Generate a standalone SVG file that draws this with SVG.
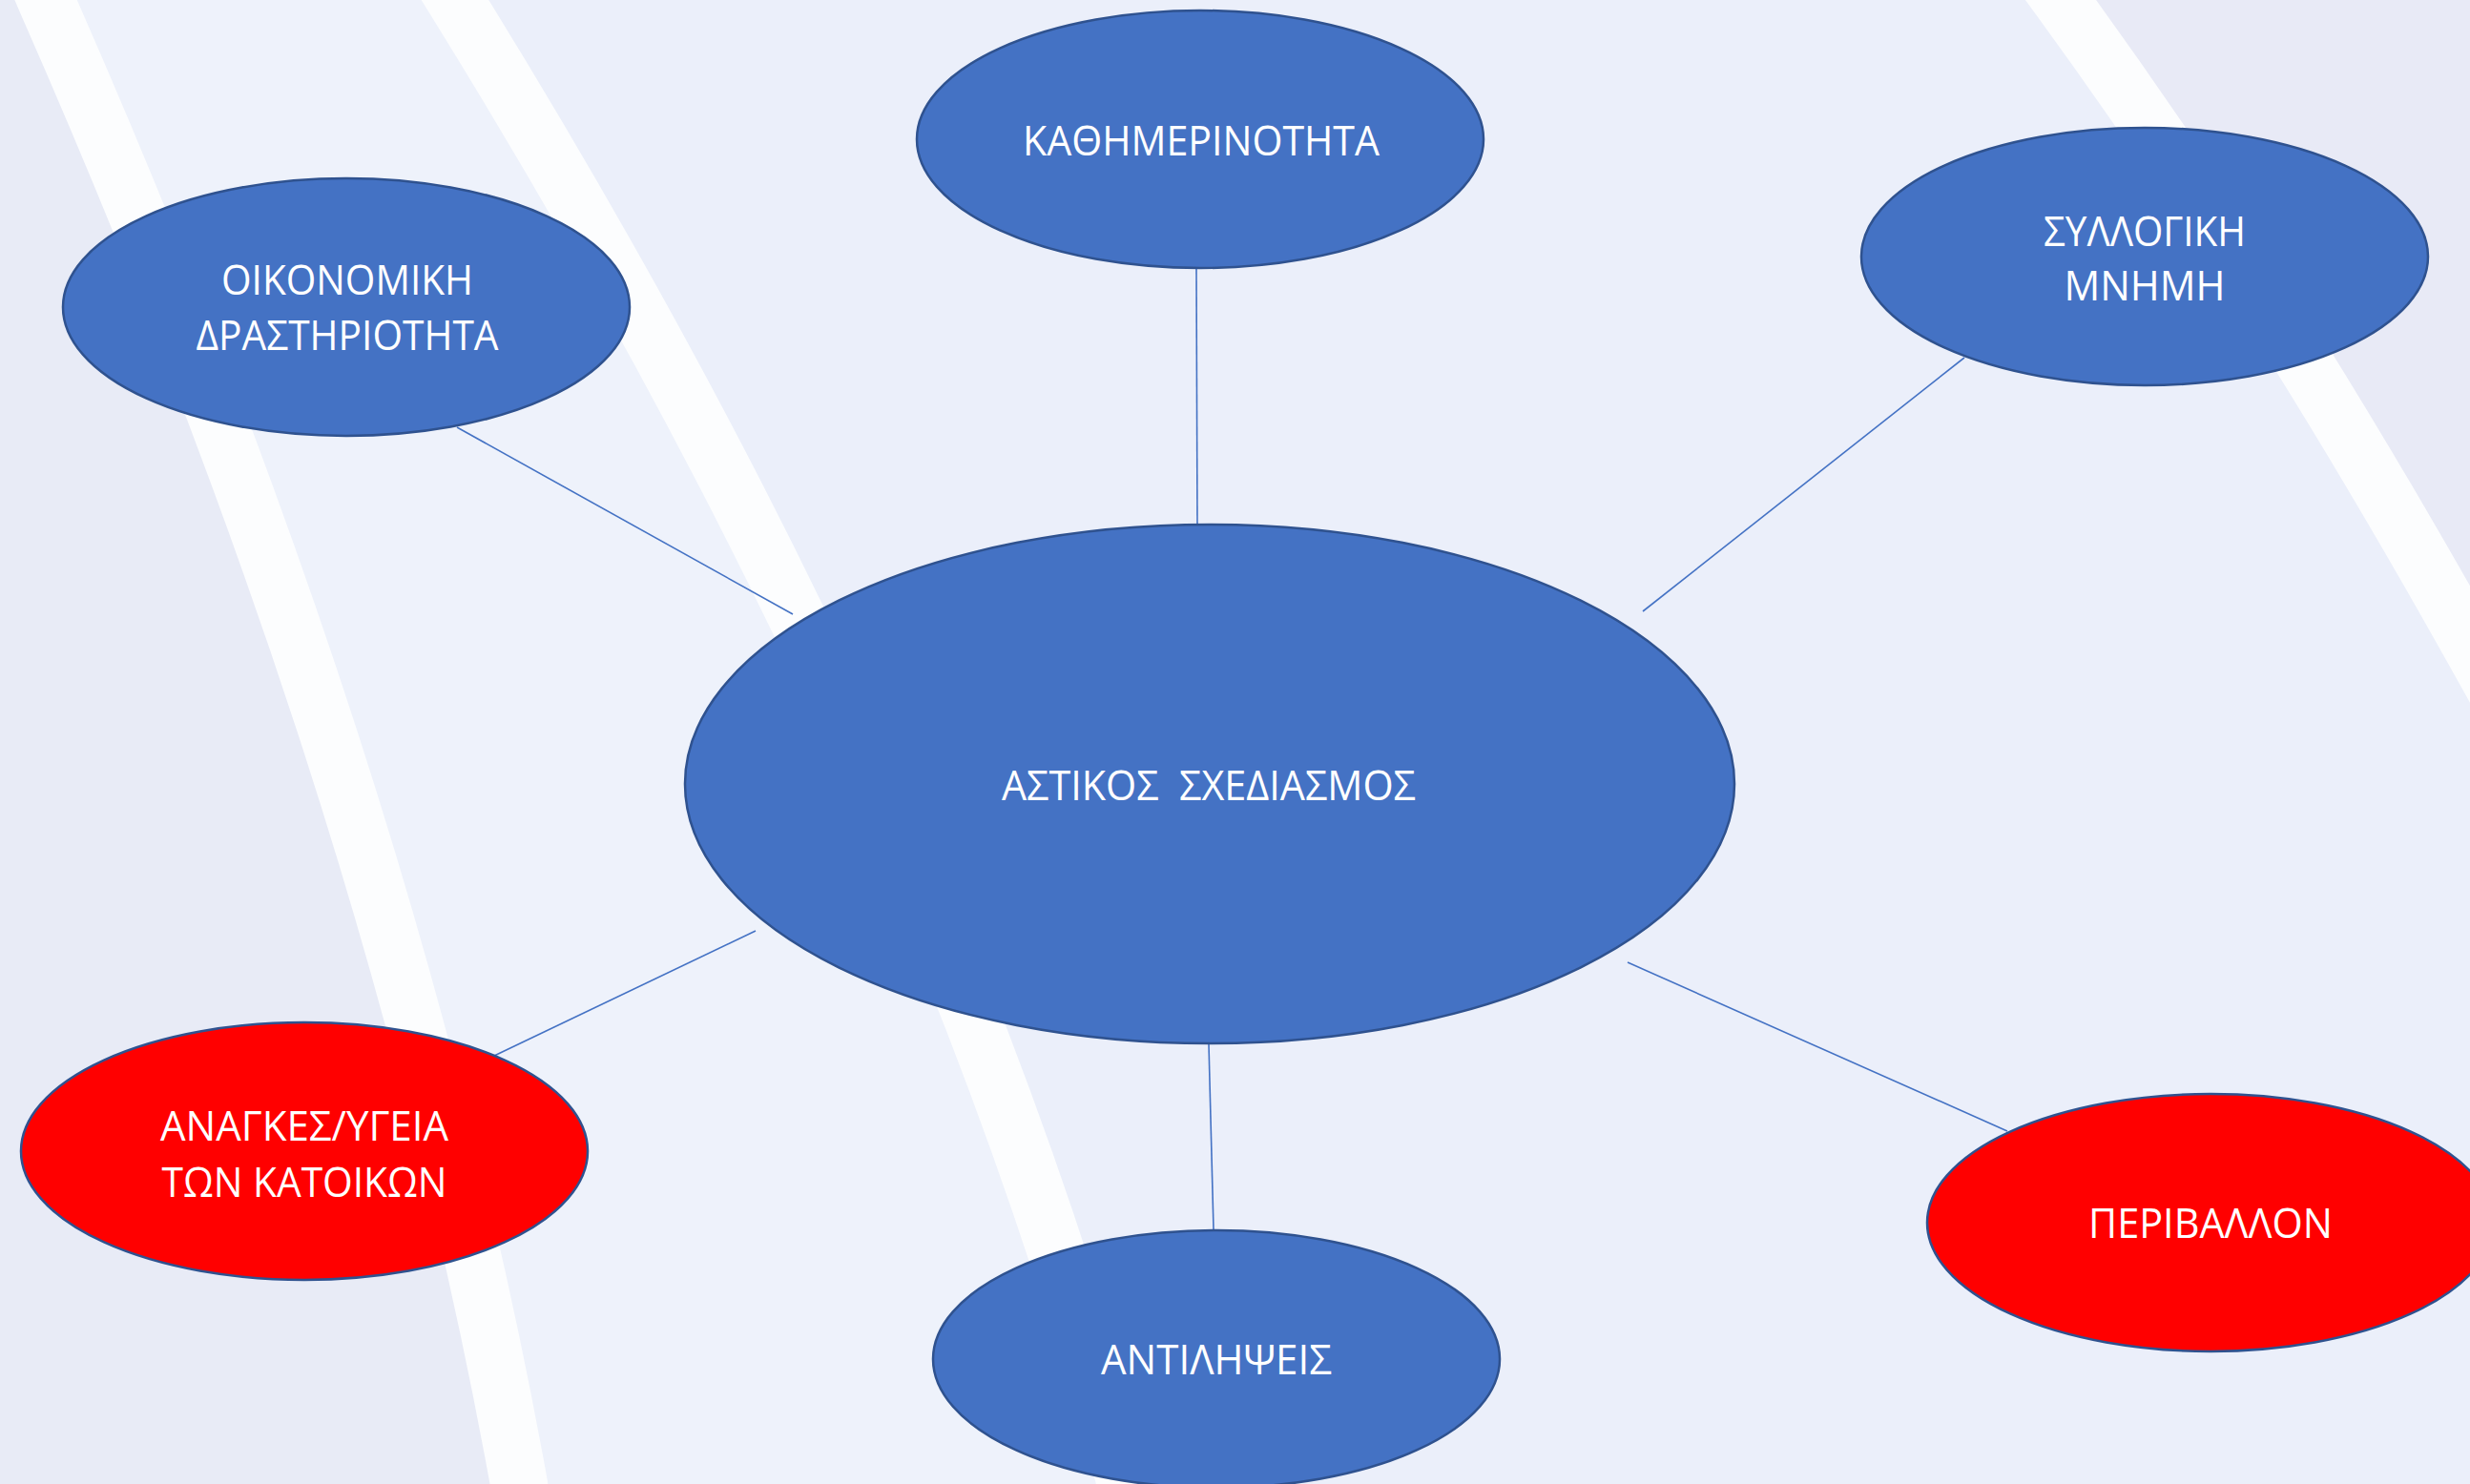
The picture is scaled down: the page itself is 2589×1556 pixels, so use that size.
<svg xmlns="http://www.w3.org/2000/svg" width="2589" height="1556" viewBox="0 0 2589 1556">
  <defs>
    <style>
      .node { stroke: #2F528F; stroke-width: 2.5; }
      .blue { fill: #4472C4; }
      .red { fill: #FF0000; }
      .lbl { font-family: "Open Sans", "Noto Sans", "Liberation Sans", sans-serif; font-size: 43px; fill: #FFFFFF; text-anchor: middle; }
      .conn { stroke: #4472C4; stroke-width: 1.6; fill: none; }
      .stripe { stroke: #FCFDFE; stroke-width: 60; fill: none; }
    </style>
  </defs>

  <g id="background">
    <rect x="0" y="0" width="2589" height="1556" fill="#EBEFFA"/>
    <path d="M0,0 L48,0 C277,520 450,1036 544,1556 L0,1556 Z" fill="#E8EBF6"/>
    <path d="M48,0 L477,0 C799,520 1040,1036 1180,1556 L544,1556 C450,1036 277,520 48,0 Z" fill="#EEF2FB"/>
    <path d="M2160,0 C2340,247 2489,493 2625,740 L2625,0 Z" fill="#E8EAF6"/>
    <path class="stripe" d="M31,-40 L48,0 C277,520 450,1036 544,1556 L550,1600"/>
    <path class="stripe" d="M452,-40 L477,0 C799,520 1040,1036 1180,1556 L1192,1600"/>
    <path class="stripe" d="M2131,-40 L2160,0 C2340,247 2489,493 2625,740"/>
  </g>

  <g id="connectors">
    <line class="conn" x1="1254" y1="282" x2="1255" y2="551"/>
    <line class="conn" x1="479" y1="448" x2="831" y2="644"/>
    <line class="conn" x1="2059" y1="375" x2="1722" y2="641"/>
    <line class="conn" x1="792" y1="976" x2="518" y2="1107"/>
    <line class="conn" x1="1267" y1="1095" x2="1272" y2="1289"/>
    <line class="conn" x1="1706" y1="1009" x2="2104" y2="1186"/>
  </g>

  <g id="node-center">
    <ellipse class="node blue" cx="1268" cy="822" rx="550" ry="272"/>
    <text class="lbl" x="1267" y="839" textLength="434" lengthAdjust="spacingAndGlyphs" xml:space="preserve">ΑΣΤΙΚΟΣ  ΣΧΕΔΙΑΣΜΟΣ</text>
  </g>

  <g id="node-kathimerinotita">
    <ellipse class="node blue" cx="1258" cy="146" rx="297" ry="135"/>
    <text class="lbl" x="1259" y="163" textLength="374" lengthAdjust="spacingAndGlyphs">ΚΑΘΗΜΕΡΙΝΟΤΗΤΑ</text>
  </g>

  <g id="node-oikonomiki">
    <ellipse class="node blue" cx="363" cy="322" rx="297" ry="135"/>
    <text class="lbl" x="364" y="309" textLength="264" lengthAdjust="spacingAndGlyphs">ΟΙΚΟΝΟΜΙΚΗ</text>
    <text class="lbl" x="364" y="367" textLength="317" lengthAdjust="spacingAndGlyphs">ΔΡΑΣΤΗΡΙΟΤΗΤΑ</text>
  </g>

  <g id="node-syllogiki">
    <ellipse class="node blue" cx="2248" cy="269" rx="297" ry="135"/>
    <text class="lbl" x="2248" y="258" textLength="212" lengthAdjust="spacingAndGlyphs">ΣΥΛΛΟΓΙΚΗ</text>
    <text class="lbl" x="2248" y="315" textLength="169" lengthAdjust="spacingAndGlyphs">ΜΝΗΜΗ</text>
  </g>

  <g id="node-anagkes">
    <ellipse class="node red" cx="319" cy="1207" rx="297" ry="135"/>
    <text class="lbl" x="319" y="1196" textLength="302" lengthAdjust="spacingAndGlyphs">ΑΝΑΓΚΕΣ/ΥΓΕΙΑ</text>
    <text class="lbl" x="319" y="1255" textLength="299" lengthAdjust="spacingAndGlyphs">ΤΩΝ ΚΑΤΟΙΚΩΝ</text>
  </g>

  <g id="node-antilipseis">
    <ellipse class="node blue" cx="1275" cy="1425" rx="297" ry="135"/>
    <text class="lbl" x="1275" y="1441" textLength="242" lengthAdjust="spacingAndGlyphs">ΑΝΤΙΛΗΨΕΙΣ</text>
  </g>

  <g id="node-perivallon">
    <ellipse class="node red" cx="2317" cy="1282" rx="297" ry="135"/>
    <text class="lbl" x="2317" y="1298" textLength="256" lengthAdjust="spacingAndGlyphs">ΠΕΡΙΒΑΛΛΟΝ</text>
  </g>
</svg>
